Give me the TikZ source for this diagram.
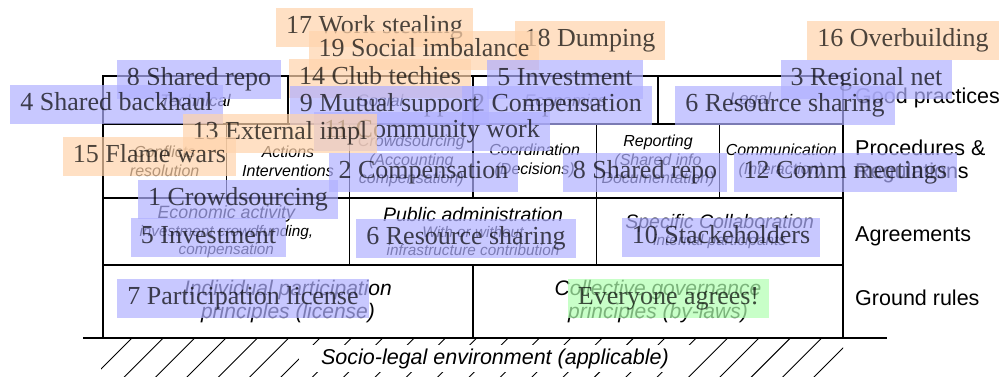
\documentclass[tikz,border=0pt]{standalone}
\usepackage{fontspec}
\setmainfont{Liberation Serif}
\newfontfamily\lsans{Liberation Sans}
\definecolor{ovblue}{RGB}{176,176,255}
\definecolor{ovorange}{RGB}{255,211,171}
\definecolor{ovgreen}{RGB}{176,255,176}
\newcommand{\fs}[2]{\fontsize{#1}{#2}\selectfont}
\begin{document}
\begin{tikzpicture}[x=1pt,y=-1pt,
  cell/.style={draw=black, line width=1.3pt, inner sep=2pt, align=center, text=black},
  r1/.style={cell, minimum width=185pt, minimum height=48pt, font=\lsans\itshape\fs{16.8}{19}},
  r2/.style={cell, minimum width=123.33pt, minimum height=74pt, font=\lsans\itshape\fs{16}{18.7}},
  r3/.style={cell, minimum width=246.67pt, minimum height=67pt, font=\lsans\itshape\fs{15.3}{17.5}},
  r4/.style={cell, minimum width=370pt, minimum height=73pt, font=\lsans\itshape\fs{21}{23}},
  side/.style={anchor=west, inner sep=0pt, align=left, font=\lsans\fs{21.5}{23}},
  ov/.style={opacity=0.7, text=black, inner xsep=10pt, inner ysep=0pt, minimum height=39pt,
             text height=18pt, text depth=6pt, font=\fs{26}{30}},
  ovb/.style={ov, fill=ovblue},
  ovo/.style={ov, fill=ovorange},
  ovg/.style={ov, fill=ovgreen},
  hatch/.style={line width=0.9pt, black}
]
\useasboundingbox (0,0) rectangle (1002,376);
% hatching of the socio-legal ground
\begin{scope}
  \clip (101,338) rectangle (843,376);
  \foreach \i in {0,...,23} \draw[hatch] ({132+31.35*\i},338) -- ++(-42,42);
\end{scope}
\draw[line width=1.3pt] (83,338) -- (887,338);
\node[fill=white, inner xsep=22pt, inner ysep=0pt, minimum height=27pt,
      font=\lsans\itshape\fs{21.5}{24}] (env) at (495,358.5) {Socio-legal environment (applicable)};
% row 1: good practices
\node[r1] (tech) at (195.5,100) {Technical};
\node[r1] (soc)  at (380.5,100) {Social};
\node[r1] (eco)  at (565.5,100) {Economics};
\node[r1] (leg)  at (750.5,100) {Legal};
% row 2: procedures
\node[r2] (confl) at (164.67,161) {Conflicts\\resolution};
\node[r2] (act)   at (288,161)    {Actions\\Interventions};
\node[r2] (crowd) at (411.33,161) {Crowdsourcing\\(Accounting\\compensation)};
\node[r2] (coord) at (534.67,161) {Coordination\\(Decisions)};
\node[r2] (rep)   at (658,161)    {Reporting\\(Shared info\\Documentation)};
\node[r2] (comm)  at (781.33,161) {Communication\\(Interaction)};
% row 3: agreements
\node[r3] (econ) at (226.33,231.5) {{\fs{17.8}{19}Economic activity}\\[1pt]investment crowdfunding,\\compensation};
\node[r3] (pub)  at (473,231.5)    {{\fs{19.5}{20}Public administration}\\[-1pt]With or without\\infrastructure contribution};
\node[r3] (spec) at (719.67,231.5) {{\fs{19.5}{20}Specific Collaboration}\\[-1pt]internal participants};
% row 4: ground rules
\node[r4] (indiv) at (288,301.5) {Individual participation\\principles (license)};
\node[r4] (coll)  at (658,301.5) {Collective governance\\principles (by-laws)};
% side labels
\node[side] (lgp)  at (855,98)  {Good practices};
\node[side] (lpr)  at (855,161) {Procedures \&\\Regulations};
\node[side] (lag)  at (855,236) {Agreements};
\node[side] (lgr)  at (855,298) {Ground rules};
% overlays
\node[ovo] (o17) at (374.5,27) {17 Work stealing};
\node[ovo] (o18) at (590,40)   {18 Dumping};
\node[ovo] (o19) at (424,50)   {19 Social imbalance};
\node[ovo] (o16) at (903,40)   {16 Overbuilding};
\node[ovo] (o14) at (380,78)   {14 Club techies};
\node[ovb] (o8a) at (199,79)   {8 Shared repo};
\node[ovb] (o4)  at (116.5,104) {4 Shared backhaul};
\node[ovb] (o5a) at (565,79)   {5 Investment};
\node[ovb] (o2a) at (557,105)  {2 Compensation};
\node[ovb] (o9)  at (389.5,105) {9 Mutual support};
\node[ovb] (o11) at (432,131)  {11 Community work};
\node[ovo] (o13) at (280,133)  {13 External impl};
\node[ovo] (o15) at (149.5,156) {15 Flame wars};
\node[ovb] (o3)  at (866.5,79) {3 Regional net};
\node[ovb] (o6a) at (785,105)  {6 Resource sharing};
\node[ovb] (o1)  at (238,199)  {1 Crowdsourcing};
\node[ovb] (o2b) at (423.5,172) {2 Compensation};
\node[ovb] (o8b) at (645,172)  {8 Shared repo};
\node[ovb] (o12) at (845.5,172) {12 Comm meetings};
\node[ovb] (o5b) at (208.5,237) {5 Investment};
\node[ovb] (o6b) at (466,238)  {6 Resource sharing};
\node[ovb] (o10) at (721,237)  {10 Stackeholders};
\node[ovb] (o7)  at (243,298)  {7 Participation license};
\node[ovg] (oev) at (668.5,298) {Everyone agrees!};
\end{tikzpicture}
\end{document}
